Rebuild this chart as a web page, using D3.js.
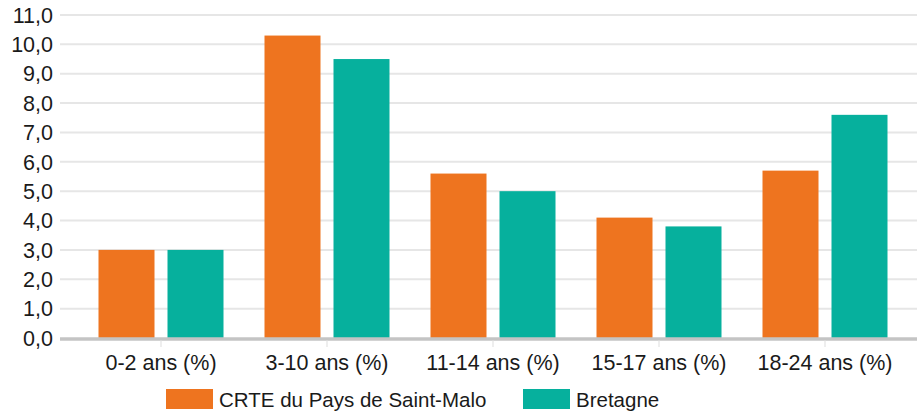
<!DOCTYPE html>
<html><head><meta charset="utf-8">
<script src="https://cdn.jsdelivr.net/npm/d3@7"></script>
<style>body{margin:0;background:#fff}svg{display:block;font-family:"Liberation Sans",Arial,sans-serif}</style>
</head><body><svg id="c" width="917" height="412"></svg>
<script>
const categories = ["0-2 ans (%)","3-10 ans (%)","11-14 ans (%)","15-17 ans (%)","18-24 ans (%)"];
const seriesNames = ["CRTE du Pays de Saint-Malo","Bretagne"];
const crte = [3.0,10.3,5.6,4.1,5.7];
const bretagne = [3.0,9.5,5.0,3.8,7.6];
const yTicks = [0,1,2,3,4,5,6,7,8,9,10,11];
const colors = ["#EE741F","#06B09D"];

(function(){
const svg = d3.select("#c");
const mLeft = 60, mRight = 917, mTop = 15, mBottom = 338;
const y = d3.scaleLinear().domain([0,11]).range([mBottom, mTop]);
const x = d3.scaleBand().domain(categories).range([78, 908]).paddingInner(0).paddingOuter(0);
const x1 = d3.scaleBand().domain(seriesNames).range([20.5, x.bandwidth()-20.5]).paddingInner(13/69).paddingOuter(0);
const fmt = v => d3.format(".1f")(v).replace(".", ",");

svg.append("g").selectAll("line").data(yTicks.filter(t=>t>0)).join("line")
  .attr("x1", mLeft).attr("x2", mRight).attr("y1", d=>y(d)).attr("y2", d=>y(d))
  .attr("stroke", "#e6e6e6").attr("stroke-width", 2);
svg.append("g").selectAll("text").data(yTicks).join("text")
  .attr("x", 53).attr("y", d=>y(d)).attr("dy", "0.36em").attr("text-anchor","end")
  .attr("font-size", 21.5).attr("fill", "#1a1a1a").text(fmt);

const data = categories.map((c,i)=>({c, vals:[crte[i], bretagne[i]]}));
const g = svg.append("g").selectAll("g").data(data).join("g")
  .attr("transform", d=>`translate(${x(d.c)},0)`);
g.selectAll("rect").data(d=>d.vals.map((v,j)=>({v, s:seriesNames[j], j}))).join("rect")
  .attr("x", d=>x1(d.s)).attr("width", x1.bandwidth())
  .attr("y", d=>y(d.v)).attr("height", d=>y(0)-y(d.v)).attr("fill", d=>colors[d.j]);

svg.append("line").attr("x1", mLeft).attr("x2", mRight).attr("y1", mBottom+1).attr("y2", mBottom+1)
  .attr("stroke", "#c4c4c4").attr("stroke-width", 3.5);
svg.append("g").selectAll("line").data(categories).join("line")
  .attr("x1", d=>x(d)+x.bandwidth()/2).attr("x2", d=>x(d)+x.bandwidth()/2)
  .attr("y1", mBottom+2).attr("y2", mBottom+9).attr("stroke", "#ddd").attr("stroke-width", 1);
svg.append("g").selectAll("text").data(categories).join("text")
  .attr("x", d=>x(d)+x.bandwidth()/2).attr("y", 370).attr("text-anchor","middle")
  .attr("font-size", 21.5).attr("fill", "#1a1a1a").text(d=>d);

const legX = [166, 523];
const lg = svg.append("g").selectAll("g").data(seriesNames).join("g")
  .attr("transform", (d,i)=>`translate(${legX[i]},389)`);
lg.append("rect").attr("width", 47).attr("height", 20).attr("fill", (d,i)=>colors[i]);
lg.append("text").attr("x", 53).attr("y", 18).attr("font-size", 20.5).attr("fill", "#1a1a1a").text(d=>d);
})();
</script></body></html>
